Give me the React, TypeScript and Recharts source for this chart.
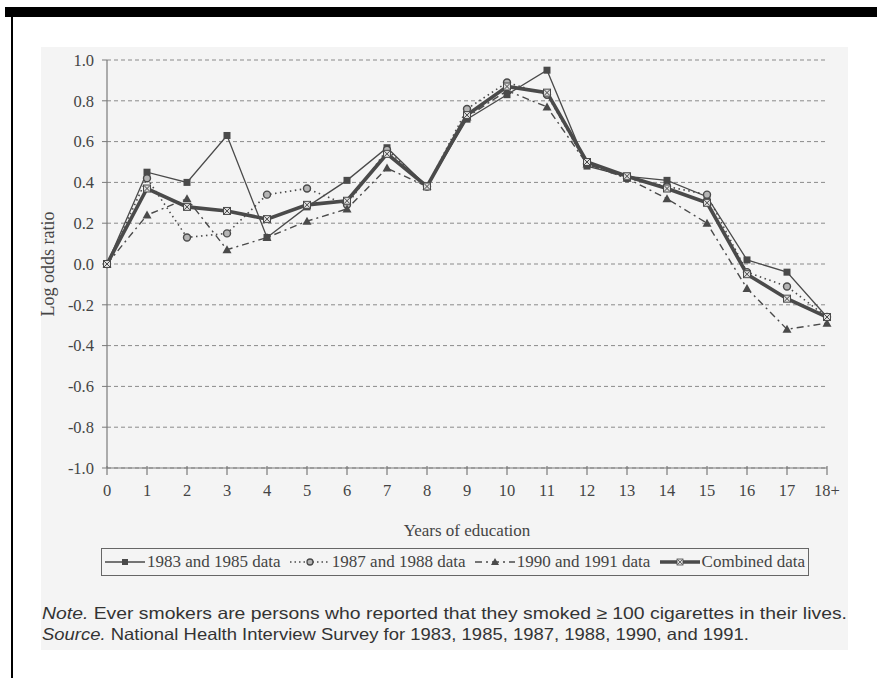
import { CartesianGrid, Legend, Line, LineChart, XAxis, YAxis } from "recharts";

// years of education on the x axis
const categories = ["0", "1", "2", "3", "4", "5", "6", "7", "8", "9", "10", "11", "12", "13", "14", "15", "16", "17", "18+"];
const yTicks = [1.0, 0.8, 0.6, 0.4, 0.2, 0.0, -0.2, -0.4, -0.6, -0.8, -1.0];

// log odds ratios
const data8385 = [0, 0.45, 0.40, 0.63, 0.13, 0.28, 0.41, 0.57, 0.38, 0.71, 0.83, 0.95, 0.48, 0.43, 0.41, 0.33, 0.02, -0.04, -0.26];
const data8788 = [0, 0.42, 0.13, 0.15, 0.34, 0.37, 0.29, 0.56, 0.38, 0.76, 0.89, 0.83, 0.49, 0.42, 0.38, 0.34, -0.04, -0.11, -0.26];
const data9091 = [0, 0.24, 0.32, 0.07, 0.13, 0.21, 0.27, 0.47, 0.38, 0.72, 0.85, 0.77, 0.49, 0.42, 0.32, 0.20, -0.12, -0.32, -0.29];
const dataCombined = [0, 0.37, 0.28, 0.26, 0.22, 0.29, 0.31, 0.54, 0.38, 0.73, 0.87, 0.84, 0.50, 0.43, 0.37, 0.30, -0.05, -0.17, -0.26];

const seriesNames = ["1983 and 1985 data", "1987 and 1988 data", "1990 and 1991 data", "Combined data"];

const chartData = categories.map((c, i) => ({
    year: c,
    a: data8385[i],
    b: data8788[i],
    c: data9091[i],
    comb: dataCombined[i],
}));

const INK = "#4a4a4a";
const AXIS = "#7a7a7a";
const TEXT = "#444";
const SERIF = "'Liberation Serif', 'Times New Roman', serif";
const NARROW = "'Liberation Sans Narrow', 'Liberation Sans', Arial, sans-serif";

const SquareDot = (p: any) => (
    <rect key={"sq" + p.index} x={p.cx - 3.5} y={p.cy - 3.5} width={7} height={7} fill={INK} />
);
const CircleDot = (p: any) => (
    <circle key={"ci" + p.index} cx={p.cx} cy={p.cy} r={3.5} fill="#b5b5b5" stroke={INK} strokeWidth={1.4} />
);
const TriDot = (p: any) => (
    <path key={"tr" + p.index} d={`M${p.cx},${p.cy - 4.5} L${p.cx + 4.5},${p.cy + 3.5} L${p.cx - 4.5},${p.cy + 3.5} Z`} fill={INK} />
);
const CrossDot = (p: any) => (
    <g key={"cx" + p.index}>
        <rect x={p.cx - 3.5} y={p.cy - 3.5} width={7} height={7} fill="#ddd" stroke={INK} strokeWidth={1} />
        <path d={`M${p.cx - 3},${p.cy - 3} L${p.cx + 3},${p.cy + 3} M${p.cx + 3},${p.cy - 3} L${p.cx - 3},${p.cy + 3}`} stroke={INK} strokeWidth={1} />
    </g>
);

const XTick = (props: any) => {
    const { x, y, payload } = props;
    return (
        <g>
            <line x1={x} x2={x} y1={y - 4} y2={y + 5} stroke={AXIS} strokeWidth={1.2} />
            <text x={x} y={y + 26} textAnchor="middle" fill={TEXT} fontSize={16.5} fontFamily={SERIF}>
                {payload.value}
            </text>
        </g>
    );
};

function LegendIcon({ kind }: { kind: number }) {
    const w = 40;
    const m = 20;
    if (kind === 0)
        return (
            <svg width={w} height={12}>
                <line x1={0} x2={w} y1={6} y2={6} stroke={INK} strokeWidth={1.4} />
                <rect x={m - 3} y={3} width={6} height={6} fill={INK} />
            </svg>
        );
    if (kind === 1)
        return (
            <svg width={w} height={12}>
                <line x1={0} x2={w} y1={6} y2={6} stroke={INK} strokeWidth={1.5} strokeDasharray="1.5 3" />
                <circle cx={m} cy={6} r={3} fill="#b5b5b5" stroke={INK} strokeWidth={1.3} />
            </svg>
        );
    if (kind === 2)
        return (
            <svg width={w} height={12}>
                <line x1={0} x2={w} y1={6} y2={6} stroke={INK} strokeWidth={1.4} strokeDasharray="7 4 2 4" />
                <path d={`M${m},2 L${m + 4},9 L${m - 4},9 Z`} fill={INK} />
            </svg>
        );
    return (
        <svg width={w} height={12}>
            <line x1={0} x2={w} y1={6} y2={6} stroke={INK} strokeWidth={3.5} />
            <rect x={m - 3} y={3} width={6} height={6} fill="#ddd" stroke={INK} strokeWidth={0.8} />
            <path d={`M${m - 2.5},3.5 L${m + 2.5},8.5 M${m + 2.5},3.5 L${m - 2.5},8.5`} stroke={INK} strokeWidth={0.8} />
        </svg>
    );
}

const renderLegend = () => (
    <div
        style={{
            border: "1px solid #666",
            width: 708,
            height: 28,
            boxSizing: "border-box",
            display: "flex",
            alignItems: "center",
            justifyContent: "space-between",
            padding: "0 3px",
            fontFamily: SERIF,
            fontSize: 17,
            color: TEXT,
            whiteSpace: "nowrap",
        }}
    >
        {seriesNames.map((n, i) => (
            <span key={n} style={{ display: "flex", alignItems: "center", gap: 2 }}>
                <LegendIcon kind={i} />
                {n}
            </span>
        ))}
    </div>
);

export default function App() {
    return (
        <div style={{ position: "absolute", left: 0, top: 0, width: 877, height: 678, background: "#fff", overflow: "hidden" }}>
            <div style={{ position: "absolute", left: 5, top: 7, right: 0, height: 10, background: "#000" }} />
            <div style={{ position: "absolute", left: 11, top: 7, width: 2, height: 671, background: "#000" }} />
            <div style={{ position: "absolute", left: 41, top: 47, width: 807, height: 603, background: "#f4f4f4" }} />
            <div style={{ position: "absolute", left: 0, top: 0 }}>
                <LineChart width={877} height={678} data={chartData} margin={{ top: 60, right: 50, left: 47, bottom: 142 }}>
                    <CartesianGrid vertical={false} stroke="#8a8a8a" strokeDasharray="4 3" />
                    <XAxis
                        dataKey="year"
                        interval={0}
                        height={68}
                        tickSize={0}
                        tickLine={false}
                        tick={<XTick />}
                        axisLine={{ stroke: AXIS, strokeWidth: 1.2 }}
                        label={{ value: "Years of education", position: "insideBottom", offset: 0, fill: TEXT, fontSize: 17, fontFamily: SERIF }}
                    />
                    <YAxis
                        width={60}
                        domain={[-1, 1]}
                        ticks={yTicks}
                        interval={0}
                        tickFormatter={(v: number) => v.toFixed(1)}
                        tickSize={5}
                        tickMargin={8}
                        tick={{ fill: TEXT, fontSize: 16.5, fontFamily: SERIF }}
                        tickLine={{ stroke: AXIS }}
                        axisLine={{ stroke: AXIS, strokeWidth: 1.2 }}
                        label={{ value: "Log odds ratio", angle: -90, position: "insideLeft", offset: 1, fill: TEXT, fontSize: 18, fontFamily: SERIF, style: { textAnchor: "middle" } }}
                    />
                    <Legend
                        verticalAlign="middle"
                        align="center"
                        content={renderLegend}
                        wrapperStyle={{ left: 101, top: 548, width: 708, height: 28 }}
                    />
                    <Line dataKey="a" name={seriesNames[0]} stroke={INK} strokeWidth={1.3} dot={SquareDot} isAnimationActive={false} />
                    <Line dataKey="b" name={seriesNames[1]} stroke={INK} strokeWidth={1.6} strokeDasharray="1.5 3.5" dot={CircleDot} isAnimationActive={false} />
                    <Line dataKey="c" name={seriesNames[2]} stroke={INK} strokeWidth={1.4} strokeDasharray="7 4 2 4" dot={TriDot} isAnimationActive={false} />
                    <Line dataKey="comb" name={seriesNames[3]} stroke={INK} strokeWidth={3.6} dot={CrossDot} isAnimationActive={false} />
                </LineChart>
            </div>
            <svg style={{ position: "absolute", left: 0, top: 0 }} width={877} height={678}>
                <text x={42} y={619} fill="#333" fontSize={16.5} fontFamily={NARROW} textLength={805} lengthAdjust="spacingAndGlyphs">
                    <tspan fontStyle="italic">Note.</tspan> Ever smokers are persons who reported that they smoked {"\u2265"} 100 cigarettes in their lives.
                </text>
                <text x={42} y={640} fill="#333" fontSize={16.5} fontFamily={NARROW} textLength={707} lengthAdjust="spacingAndGlyphs">
                    <tspan fontStyle="italic">Source.</tspan> National Health Interview Survey for 1983, 1985, 1987, 1988, 1990, and 1991.
                </text>
            </svg>
        </div>
    );
}
